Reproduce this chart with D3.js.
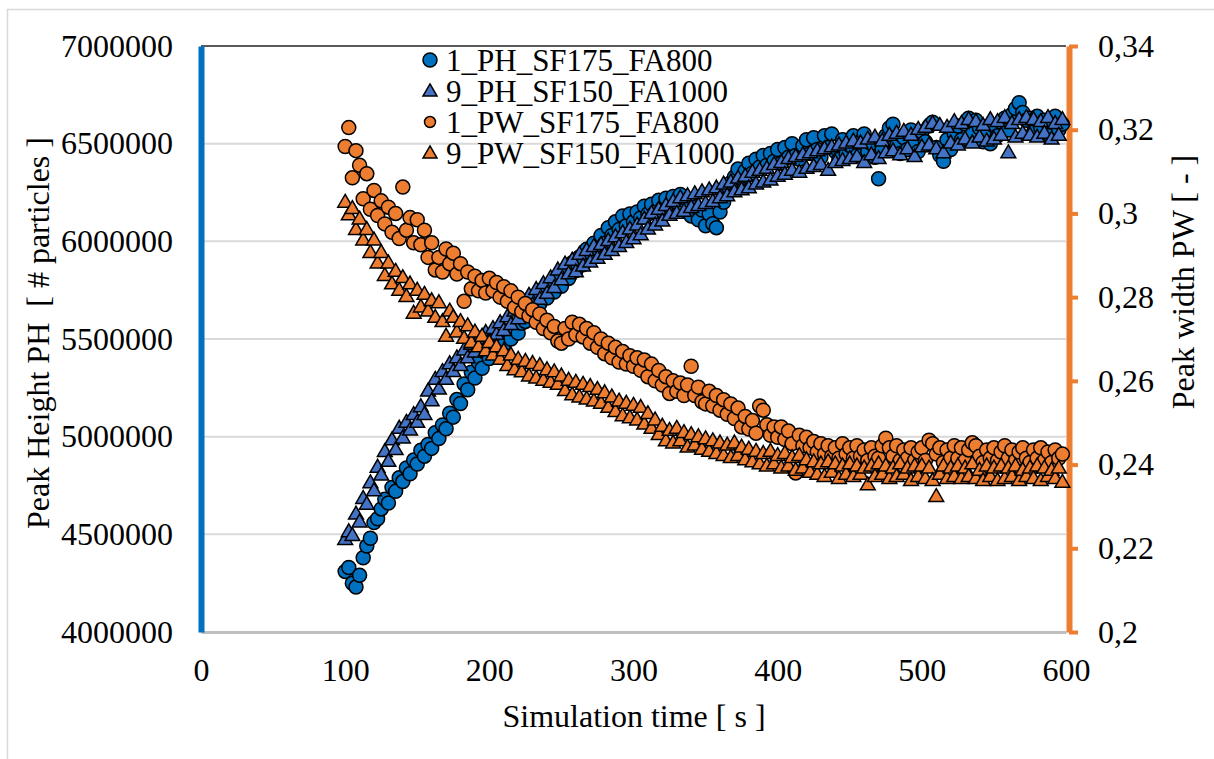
<!DOCTYPE html>
<html>
<head>
<meta charset="utf-8">
<script src="https://cdn.jsdelivr.net/npm/d3@7"></script>
<style>
  body { margin: 0; background: #fff; }
  text { font-family: "Liberation Serif", "Times New Roman", serif; fill: #000; }
</style>
</head>
<body>
<svg id="chart" width="1214" height="759"></svg>
<script>
// simulation time [s]
let times = [100, 102.5, 105, 107.5, 110, 112.5, 115, 117.5, 120, 122.5,
  125, 127.5, 130, 132.5, 135, 137.5, 140, 142.5, 145, 147.5,
  150, 152.5, 155, 157.5, 160, 162.5, 165, 167.5, 170, 172.5,
  175, 177.5, 180, 182.5, 185, 187.5, 190, 192.5, 195, 197.5,
  200, 202.5, 205, 207.5, 210, 212.5, 215, 217.5, 220, 222.5,
  225, 227.5, 230, 232.5, 235, 237.5, 240, 242.5, 245, 247.5,
  250, 252.5, 255, 257.5, 260, 262.5, 265, 267.5, 270, 272.5,
  275, 277.5, 280, 282.5, 285, 287.5, 290, 292.5, 295, 297.5,
  300, 302.5, 305, 307.5, 310, 312.5, 315, 317.5, 320, 322.5,
  325, 327.5, 330, 332.5, 335, 337.5, 340, 342.5, 345, 347.5,
  350, 352.5, 355, 357.5, 360, 362.5, 365, 367.5, 370, 372.5,
  375, 377.5, 380, 382.5, 385, 387.5, 390, 392.5, 395, 397.5,
  400, 402.5, 405, 407.5, 410, 412.5, 415, 417.5, 420, 422.5,
  425, 427.5, 430, 432.5, 435, 437.5, 440, 442.5, 445, 447.5,
  450, 452.5, 455, 457.5, 460, 462.5, 465, 467.5, 470, 472.5,
  475, 477.5, 480, 482.5, 485, 487.5, 490, 492.5, 495, 497.5,
  500, 502.5, 505, 507.5, 510, 512.5, 515, 517.5, 520, 522.5,
  525, 527.5, 530, 532.5, 535, 537.5, 540, 542.5, 545, 547.5,
  550, 552.5, 555, 557.5, 560, 562.5, 565, 567.5, 570, 572.5,
  575, 577.5, 580, 582.5, 585, 587.5, 590, 592.5, 595, 597.5];

// peak height [# particles], left axis
let ph1 = [4310000, 4330000, 4250000, 4230000, 4290000, 4380000, 4440000, 4480000, 4560000, 4580000,
  4630000, 4680000, 4660000, 4740000, 4720000, 4790000, 4770000, 4840000, 4810000, 4880000,
  4860000, 4930000, 4900000, 4960000, 4940000, 5020000, 4990000, 5060000, 5040000, 5120000,
  5100000, 5190000, 5170000, 5270000, 5240000, 5330000, 5300000, 5380000, 5350000, 5430000,
  5400000, 5470000, 5440000, 5500000, 5470000, 5540000, 5500000, 5560000, 5530000, 5580000,
  5590000, 5660000, 5630000, 5710000, 5680000, 5750000, 5710000, 5780000, 5740000, 5800000,
  5770000, 5840000, 5810000, 5890000, 5850000, 5920000, 5880000, 5960000, 5920000, 5990000,
  5960000, 6030000, 5990000, 6070000, 6030000, 6100000, 6060000, 6130000, 6080000, 6140000,
  6100000, 6150000, 6120000, 6180000, 6140000, 6190000, 6150000, 6210000, 6170000, 6220000,
  6180000, 6230000, 6200000, 6240000, 6160000, 6210000, 6130000, 6180000, 6110000, 6160000,
  6080000, 6140000, 6090000, 6070000, 6150000, 6200000, 6250000, 6300000, 6330000, 6370000,
  6320000, 6360000, 6400000, 6350000, 6420000, 6380000, 6440000, 6390000, 6450000, 6410000,
  6470000, 6400000, 6480000, 6430000, 6500000, 6440000, 6420000, 6490000, 6520000, 6450000,
  6530000, 6470000, 6430000, 6540000, 6480000, 6550000, 6460000, 6420000, 6520000, 6450000,
  6490000, 6540000, 6440000, 6510000, 6550000, 6460000, 6500000, 6430000, 6320000, 6470000,
  6540000, 6580000, 6600000, 6490000, 6450000, 6530000, 6470000, 6570000, 6500000, 6460000,
  6560000, 6510000, 6590000, 6610000, 6480000, 6440000, 6410000, 6520000, 6470000, 6550000,
  6590000, 6520000, 6600000, 6630000, 6550000, 6620000, 6580000, 6510000, 6570000, 6500000,
  6590000, 6540000, 6610000, 6630000, 6570000, 6650000, 6680000, 6710000, 6660000, 6620000,
  6630000, 6560000, 6640000, 6580000, 6620000, 6550000, 6610000, 6640000, 6570000, 6600000];

let ph9 = [4470000, 4510000, 4490000, 4600000, 4560000, 4680000, 4650000, 4760000, 4720000, 4840000,
  4800000, 4920000, 4870000, 4980000, 4930000, 5040000, 4990000, 5070000, 5030000, 5110000,
  5070000, 5150000, 5110000, 5230000, 5180000, 5290000, 5240000, 5330000, 5290000, 5370000,
  5330000, 5400000, 5360000, 5440000, 5400000, 5470000, 5430000, 5500000, 5460000, 5530000,
  5490000, 5550000, 5520000, 5580000, 5540000, 5610000, 5570000, 5640000, 5600000, 5680000,
  5640000, 5720000, 5670000, 5750000, 5700000, 5780000, 5730000, 5810000, 5760000, 5850000,
  5800000, 5880000, 5830000, 5900000, 5840000, 5930000, 5870000, 5950000, 5890000, 5970000,
  5910000, 5980000, 5930000, 6000000, 5950000, 6020000, 5970000, 6040000, 5990000, 6060000,
  6010000, 6080000, 6030000, 6110000, 6060000, 6140000, 6080000, 6160000, 6100000, 6180000,
  6130000, 6200000, 6140000, 6220000, 6150000, 6230000, 6170000, 6240000, 6180000, 6250000,
  6190000, 6260000, 6200000, 6270000, 6220000, 6290000, 6230000, 6300000, 6250000, 6320000,
  6260000, 6330000, 6270000, 6350000, 6290000, 6360000, 6300000, 6370000, 6310000, 6390000,
  6330000, 6400000, 6340000, 6420000, 6360000, 6430000, 6350000, 6440000, 6370000, 6450000,
  6380000, 6460000, 6390000, 6470000, 6360000, 6480000, 6400000, 6490000, 6410000, 6500000,
  6420000, 6510000, 6430000, 6500000, 6400000, 6520000, 6440000, 6530000, 6420000, 6510000,
  6450000, 6540000, 6460000, 6550000, 6440000, 6560000, 6470000, 6540000, 6430000, 6570000,
  6480000, 6580000, 6490000, 6600000, 6470000, 6590000, 6450000, 6580000, 6500000, 6610000,
  6490000, 6600000, 6520000, 6620000, 6500000, 6610000, 6530000, 6590000, 6510000, 6620000,
  6520000, 6610000, 6540000, 6630000, 6450000, 6600000, 6530000, 6620000, 6550000, 6630000,
  6540000, 6620000, 6530000, 6610000, 6550000, 6630000, 6520000, 6600000, 6540000, 6620000];

// peak width [-], right axis
let pw1 = [0.3160, 0.3205, 0.3085, 0.3150, 0.3115, 0.3035, 0.3095, 0.3010, 0.3055, 0.2995,
  0.3030, 0.2975, 0.3015, 0.2955, 0.3000, 0.2940, 0.3063, 0.2960, 0.2990, 0.2930,
  0.2985, 0.2925, 0.2960, 0.2895, 0.2930, 0.2865, 0.2895, 0.2860, 0.2915, 0.2880,
  0.2905, 0.2855, 0.2880, 0.2790, 0.2860, 0.2820, 0.2850, 0.2815, 0.2840, 0.2810,
  0.2845, 0.2815, 0.2835, 0.2800, 0.2825, 0.2790, 0.2815, 0.2775, 0.2800, 0.2765,
  0.2785, 0.2755, 0.2770, 0.2740, 0.2760, 0.2725, 0.2745, 0.2715, 0.2730, 0.2695,
  0.2690, 0.2725, 0.2700, 0.2740, 0.2710, 0.2735, 0.2705, 0.2725, 0.2690, 0.2715,
  0.2680, 0.2700, 0.2665, 0.2690, 0.2655, 0.2680, 0.2645, 0.2670, 0.2640, 0.2660,
  0.2635, 0.2655, 0.2625, 0.2650, 0.2610, 0.2640, 0.2600, 0.2625, 0.2590, 0.2610,
  0.2570, 0.2600, 0.2575, 0.2595, 0.2565, 0.2590, 0.2635, 0.2565, 0.2585, 0.2550,
  0.2545, 0.2575, 0.2540, 0.2565, 0.2530, 0.2555, 0.2520, 0.2545, 0.2510, 0.2535,
  0.2490, 0.2515, 0.2485, 0.2505, 0.2475, 0.2540, 0.2530, 0.2495, 0.2470, 0.2490,
  0.2465, 0.2490, 0.2460, 0.2480, 0.2450, 0.2380, 0.2470, 0.2445, 0.2465, 0.2440,
  0.2455, 0.2430, 0.2450, 0.2425, 0.2445, 0.2420, 0.2440, 0.2415, 0.2450, 0.2425,
  0.2440, 0.2415, 0.2445, 0.2420, 0.2435, 0.2410, 0.2440, 0.2420, 0.2415, 0.2445,
  0.2463, 0.2440, 0.2420, 0.2445, 0.2410, 0.2435, 0.2415, 0.2440, 0.2410, 0.2430,
  0.2440, 0.2410, 0.2458, 0.2450, 0.2425, 0.2440, 0.2405, 0.2435, 0.2415, 0.2445,
  0.2415, 0.2440, 0.2410, 0.2435, 0.2452, 0.2445, 0.2420, 0.2405, 0.2435, 0.2415,
  0.2440, 0.2410, 0.2430, 0.2445, 0.2415, 0.2435, 0.2410, 0.2430, 0.2440, 0.2415,
  0.2405, 0.2435, 0.2415, 0.2440, 0.2410, 0.2430, 0.2405, 0.2435, 0.2415, 0.2425];

let pw9 = [0.3025, 0.2995, 0.3010, 0.2960, 0.2985, 0.2935, 0.2960, 0.2905, 0.2935, 0.2880,
  0.2905, 0.2850, 0.2880, 0.2830, 0.2860, 0.2815, 0.2845, 0.2800, 0.2830, 0.2760,
  0.2815, 0.2775, 0.2805, 0.2765, 0.2790, 0.2750, 0.2785, 0.2740, 0.2705, 0.2765,
  0.2750, 0.2715, 0.2740, 0.2700, 0.2730, 0.2690, 0.2715, 0.2680, 0.2705, 0.2670,
  0.2690, 0.2660, 0.2680, 0.2650, 0.2670, 0.2635, 0.2660, 0.2625, 0.2650, 0.2620,
  0.2645, 0.2610, 0.2640, 0.2605, 0.2635, 0.2600, 0.2625, 0.2595, 0.2620, 0.2590,
  0.2610, 0.2575, 0.2600, 0.2565, 0.2595, 0.2560, 0.2590, 0.2555, 0.2585, 0.2550,
  0.2578, 0.2545, 0.2570, 0.2535, 0.2560, 0.2525, 0.2550, 0.2515, 0.2545, 0.2510,
  0.2540, 0.2505, 0.2535, 0.2495, 0.2520, 0.2485, 0.2505, 0.2470, 0.2490, 0.2455,
  0.2480, 0.2450, 0.2485, 0.2455, 0.2475, 0.2440, 0.2470, 0.2445, 0.2465, 0.2435,
  0.2460, 0.2430, 0.2455, 0.2425, 0.2450, 0.2420, 0.2445, 0.2415, 0.2450, 0.2420,
  0.2440, 0.2410, 0.2435, 0.2405, 0.2430, 0.2400, 0.2425, 0.2395, 0.2430, 0.2400,
  0.2420, 0.2390, 0.2425, 0.2395, 0.2415, 0.2385, 0.2420, 0.2390, 0.2410, 0.2380,
  0.2405, 0.2375, 0.2400, 0.2370, 0.2405, 0.2380, 0.2400, 0.2365, 0.2395, 0.2375,
  0.2400, 0.2370, 0.2395, 0.2375, 0.2390, 0.2350, 0.2395, 0.2370, 0.2400, 0.2375,
  0.2395, 0.2365, 0.2390, 0.2370, 0.2400, 0.2375, 0.2390, 0.2360, 0.2395, 0.2370,
  0.2395, 0.2365, 0.2390, 0.2360, 0.2322, 0.2375, 0.2395, 0.2365, 0.2390, 0.2370,
  0.2395, 0.2365, 0.2390, 0.2370, 0.2400, 0.2365, 0.2385, 0.2360, 0.2395, 0.2370,
  0.2390, 0.2360, 0.2395, 0.2365, 0.2390, 0.2370, 0.2395, 0.2360, 0.2385, 0.2370,
  0.2390, 0.2365, 0.2395, 0.2360, 0.2390, 0.2370, 0.2385, 0.2365, 0.2390, 0.2356];

let seriesNames = ['1_PH_SF175_FA800', '9_PH_SF150_FA1000', '1_PW_SF175_FA800', '9_PW_SF150_FA1000'];
let xTicks = [0, 100, 200, 300, 400, 500, 600];
let leftTicks = [4000000, 4500000, 5000000, 5500000, 6000000, 6500000, 7000000];
let rightTicks = [0.2, 0.22, 0.24, 0.26, 0.28, 0.3, 0.32, 0.34];

let svg = d3.select('#chart');
let fontSize = 32;

let x = d3.scaleLinear().domain([0, 600]).range([201, 1066]);
let yLeft = d3.scaleLinear().domain([4000000, 7000000]).range([632, 46]);
let yRight = d3.scaleLinear().domain([0.2, 0.34]).range([632, 46]);

// chart border
svg.append('rect')
  .attr('x', 7.5).attr('y', 9.5)
  .attr('width', 1220).attr('height', 760)
  .attr('fill', 'none').attr('stroke', '#d9d9d9').attr('stroke-width', 1.5);

// gridlines
svg.selectAll('.grid')
  .data(leftTicks)
  .enter()
  .append('line')
  .attr('class', 'grid')
  .attr('x1', 201).attr('x2', 1066)
  .attr('y1', d => yLeft(d)).attr('y2', d => yLeft(d))
  .attr('stroke', d => d === 7000000 ? '#222' : '#d9d9d9')
  .attr('stroke-width', d => d === 7000000 ? 1.3 : 2);

// bottom axis
let xAxis = svg.append('g')
  .attr('transform', 'translate(0,632)')
  .call(d3.axisBottom(x).tickValues(xTicks).tickSize(0).tickPadding(26));
xAxis.select('.domain').attr('stroke', '#bfbfbf').attr('stroke-width', 3);
xAxis.selectAll('text').attr('font-size', fontSize).style('font-family', '"Liberation Serif", serif');

// left axis
let leftAxis = svg.append('g')
  .attr('transform', 'translate(201,0)')
  .call(d3.axisLeft(yLeft).tickValues(leftTicks).tickSize(0).tickPadding(28).tickFormat(d3.format('d')));
leftAxis.select('.domain').attr('stroke', '#0070c0').attr('stroke-width', 6);
leftAxis.selectAll('text').attr('font-size', fontSize).style('font-family', '"Liberation Serif", serif');

// right axis
let rightAxis = svg.append('g')
  .attr('transform', 'translate(1069,0)')
  .call(d3.axisRight(yRight).tickValues(rightTicks).tickSizeInner(9).tickSizeOuter(0).tickPadding(20)
    .tickFormat(d => String(d).replace('.', ',')));
rightAxis.select('.domain').attr('stroke', '#ed7d31').attr('stroke-width', 6);
rightAxis.selectAll('.tick line').attr('stroke', '#ed7d31').attr('stroke-width', 4);
rightAxis.selectAll('text').attr('font-size', fontSize).style('font-family', '"Liberation Serif", serif');

// marker helpers
let triangle = d3.symbol().type(d3.symbolTriangle).size(95);

let drawCircles = (values, scale, fill) => {
  svg.append('g').selectAll('circle')
    .data(values)
    .enter()
    .append('circle')
    .attr('cx', (d, i) => x(times[i]))
    .attr('cy', d => scale(d))
    .attr('r', 7)
    .attr('fill', fill)
    .attr('stroke', '#000')
    .attr('stroke-width', 1.5);
};

let drawTriangles = (values, scale, fill) => {
  svg.append('g').selectAll('path')
    .data(values)
    .enter()
    .append('path')
    .attr('d', triangle)
    .attr('transform', (d, i) => 'translate(' + x(times[i]) + ',' + scale(d) + ')')
    .attr('fill', fill)
    .attr('stroke', '#000')
    .attr('stroke-width', 1.5);
};

drawCircles(ph1, yLeft, '#0070c0');
drawTriangles(ph9, yLeft, '#4472c4');
drawCircles(pw1, yRight, '#ed7d31');
drawTriangles(pw9, yRight, '#ed7d31');

// legend
let legendRows = [60, 91, 122, 153];
let legendFill = ['#0070c0', '#4472c4', '#ed7d31', '#ed7d31'];
let legendTriangle = d3.symbol().type(d3.symbolTriangle).size(85);
let legend = svg.append('g');
seriesNames.forEach((name, i) => {
  if (i % 2 === 0) {
    legend.append('circle')
      .attr('cx', 430).attr('cy', legendRows[i])
      .attr('r', i === 0 ? 7 : 5.5)
      .attr('fill', legendFill[i]).attr('stroke', '#000').attr('stroke-width', 1.5);
  } else {
    legend.append('path')
      .attr('d', legendTriangle)
      .attr('transform', 'translate(430,' + (legendRows[i] + 1) + ')')
      .attr('fill', legendFill[i]).attr('stroke', '#000').attr('stroke-width', 1.5);
  }
  legend.append('text')
    .attr('x', 446).attr('y', legendRows[i] + 11)
    .attr('font-size', 31)
    .text(name);
});

// axis titles
svg.append('text')
  .attr('x', 634).attr('y', 727)
  .attr('text-anchor', 'middle')
  .attr('font-size', fontSize)
  .text('Simulation time [ s ]');

svg.append('text')
  .attr('transform', 'translate(49,333) rotate(-90)')
  .attr('text-anchor', 'middle')
  .attr('font-size', fontSize)
  .style('white-space', 'pre')
  .text('Peak Height PH  [ # particles ]');

svg.append('text')
  .attr('transform', 'translate(1194,282) rotate(-90)')
  .attr('text-anchor', 'middle')
  .attr('font-size', fontSize)
  .text('Peak width PW [ - ]');
</script>
</body>
</html>
